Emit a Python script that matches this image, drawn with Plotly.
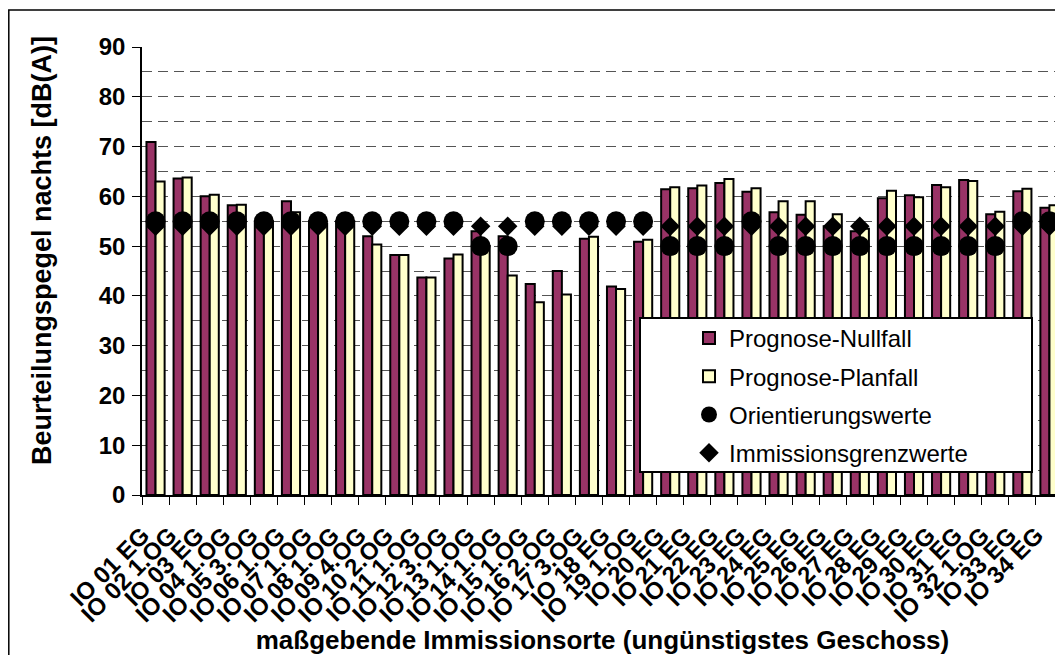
import plotly.graph_objects as go

categories = ["IO 01 EG", "IO 02 1.OG", "IO 03 EG", "IO 04 1.OG", "IO 05 3.OG",
              "IO 06 1.OG", "IO 07 1.OG", "IO 08 1.OG", "IO 09 4.OG", "IO 10 2.OG",
              "IO 11 1.OG", "IO 12 3.OG", "IO 13 1.OG", "IO 14 1.OG", "IO 15 1.OG",
              "IO 16 2.OG", "IO 17 3.OG", "IO 18 EG", "IO 19 1.OG", "IO 20 EG",
              "IO 21 EG", "IO 22 EG", "IO 23 EG", "IO 24 EG", "IO 25 EG",
              "IO 26 EG", "IO 27 EG", "IO 28 EG", "IO 29 EG", "IO 30 EG",
              "IO 31 EG", "IO 32 1.OG", "IO 33 EG", "IO 34 EG"]

nullfall = [70.9, 63.6, 60.0, 58.2, 55.0, 59.0, 55.0, 55.0, 52.0, 48.2,
            43.7, 47.5, 53.0, 52.0, 42.4, 45.0, 51.5, 41.9, 50.9, 61.4,
            61.6, 62.7, 60.9, 56.8, 56.3, 54.0, 53.0, 59.6, 60.2, 62.3,
            63.3, 56.4, 61.0, 57.7]

planfall = [63.0, 63.8, 60.3, 58.3, 55.0, 56.8, 54.5, 55.0, 50.3, 48.2,
            43.7, 48.3, 50.0, 44.1, 38.7, 40.3, 51.9, 41.4, 51.3, 61.8,
            62.2, 63.5, 61.6, 59.0, 59.0, 56.4, 53.5, 61.1, 59.8, 61.8,
            63.1, 56.9, 61.5, 58.2]

orientierungswerte = [55, 55, 55, 55, 55, 55, 55, 55, 55, 55,
                      55, 55, 50, 50, 55, 55, 55, 55, 55, 50,
                      50, 50, 55, 50, 50, 50, 50, 50, 50, 50,
                      50, 50, 55, 55]

immissionsgrenzwerte = [54] * 34

x_title = "maßgebende Immissionsorte (ungünstigstes Geschoss)"
y_title = "Beurteilungspegel nachts [dB(A)]"

FONT = "Liberation Sans, Arial, sans-serif"

fig = go.Figure()
fig.add_trace(go.Bar(
    x=categories, y=nullfall, name="Prognose-Nullfall",
    marker=dict(color="#993366", line=dict(color="black", width=2)),
    legendgroup="a"))
fig.add_trace(go.Bar(
    x=categories, y=planfall, name="Prognose-Planfall",
    marker=dict(color="#FFFFCC", line=dict(color="black", width=2)),
    legendgroup="b"))
fig.add_trace(go.Scatter(
    x=categories, y=orientierungswerte, name="Orientierungswerte", mode="markers",
    marker=dict(symbol="circle", size=20, color="black"),
    legendgroup="c"))
fig.add_trace(go.Scatter(
    x=categories, y=immissionsgrenzwerte, name="Immissionsgrenzwerte", mode="markers",
    marker=dict(symbol="diamond", size=15, color="black"),
    legendgroup="d"))

# the page body adds an 8px offset; the figure is sized so it fits the window
OFF = 8
W, H = 1063 - OFF, 655 - OFF
L, R, T = 142 - OFF, 0, 47 - OFF
B = H - (495 - OFF)
pw, ph = W - L - R, H - T - B


def px(x):
    """page x pixel -> paper coordinate"""
    return (x - OFF - L) / pw


def py(y):
    """page y pixel -> paper coordinate"""
    return (T + ph - (y - OFF)) / ph


shapes = [
    # outer chart border (bottom and right edges lie outside the window)
    dict(type="rect", xref="paper", yref="paper", x0=px(8.8), x1=px(1080),
         y0=py(680), y1=py(10), line=dict(color="black", width=1.5),
         fillcolor="rgba(0,0,0,0)", layer="below"),
    # legend box
    dict(type="rect", xref="paper", yref="paper", x0=px(640), x1=px(1032),
         y0=py(472), y1=py(318), line=dict(color="black", width=2),
         fillcolor="white", layer="above"),
]

annotations = [
    dict(text=y_title, xref="paper", yref="paper", x=px(42), y=py(251),
         xanchor="center", yanchor="middle", textangle=-90, showarrow=False,
         font=dict(family=FONT, size=27, weight="bold", color="black")),
]

fig.update_layout(
    width=W, height=H,
    margin=dict(l=L, r=R, t=T, b=B, pad=0),
    paper_bgcolor="white", plot_bgcolor="white",
    font=dict(family=FONT, color="black"),
    barmode="group", bargap=0.33, bargroupgap=0,
    showlegend=True,
    legend=dict(x=px(689), y=py(316), xanchor="left", yanchor="top",
                bgcolor="rgba(0,0,0,0)", borderwidth=0,
                font=dict(family=FONT, size=24, color="black"),
                tracegroupgap=4, itemsizing="trace"),
    shapes=shapes,
    annotations=annotations,
    xaxis=dict(
        type="category", range=[-0.5, len(categories) - 0.5],
        tickmode="array", tickvals=categories, ticktext=categories,
        tickangle=-45, tickson="boundaries",
        ticks="outside", ticklen=8, tickcolor="black", tickwidth=1,
        showline=True, linecolor="black", linewidth=1.5,
        showgrid=False, automargin=False,
        ticklabelstandoff=15, ticklabelshift=-13,
        tickfont=dict(family=FONT, size=24, weight="bold", color="black"),
        title=dict(text=x_title,
                   font=dict(family=FONT, size=26, weight="bold", color="black"),
                   standoff=4),
    ),
    yaxis=dict(
        range=[0, 90], dtick=10, tick0=0,
        ticks="outside", ticklen=8, tickcolor="black", tickwidth=1,
        showline=True, linecolor="black", linewidth=1.5,
        showgrid=True, gridcolor="#555555", gridwidth=1, griddash="10px,6px",
        minor=dict(dtick=5, tick0=0, showgrid=True, gridcolor="#555555",
                   gridwidth=1, griddash="10px,6px", ticks=""),
        zeroline=False, automargin=False,
        tickfont=dict(family=FONT, size=24, weight="bold", color="black"),
        ticklabelstandoff=2,
    ),
)

fig.write_html("out.html")
